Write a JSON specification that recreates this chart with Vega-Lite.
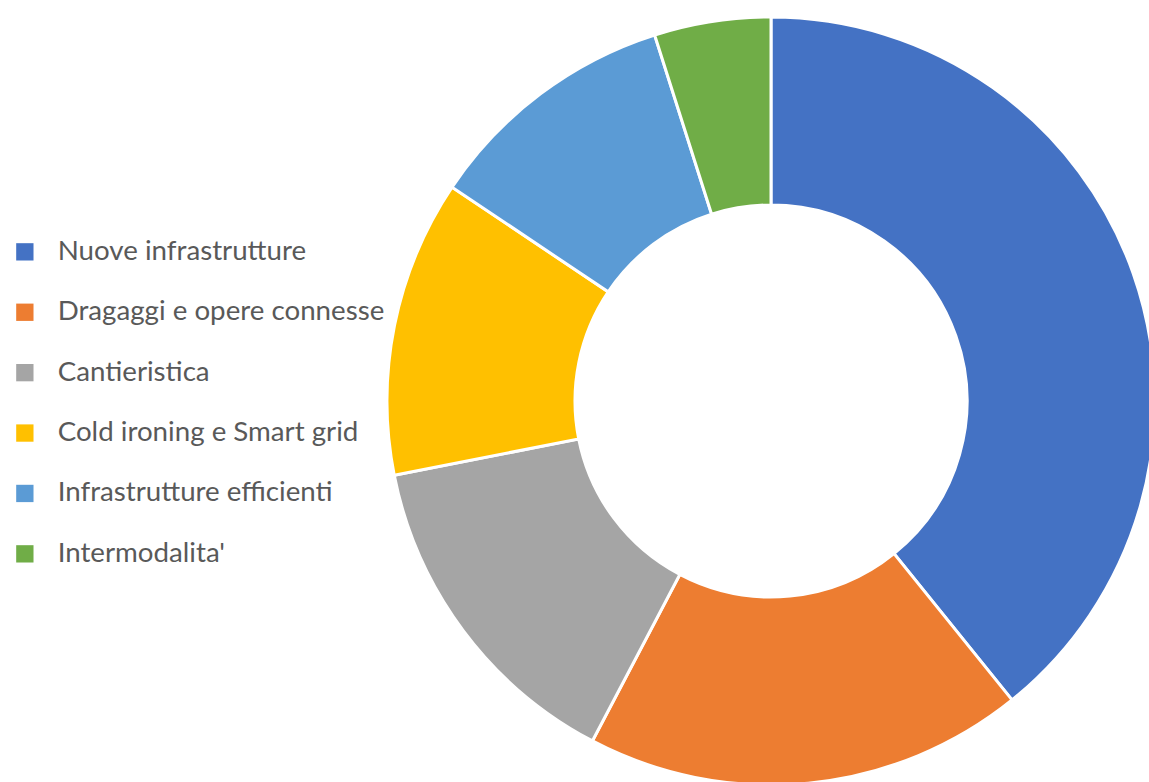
{
  "$schema": "https://vega.github.io/schema/vega-lite/v6.json",
  "width": 766,
  "height": 782,
  "autosize": {"type": "none"},
  "padding": {"left": 388, "top": 10, "right": 0, "bottom": 0},
  "background": "white",
  "config": {"view": {"stroke": null}},
  "data": {
    "values": [
      {"category": "Nuove infrastrutture", "value": 39.2, "o": 1},
      {"category": "Dragaggi e opere connesse", "value": 18.5, "o": 2},
      {"category": "Cantieristica", "value": 14.2, "o": 3},
      {"category": "Cold ironing e Smart grid", "value": 12.5, "o": 4},
      {"category": "Infrastrutture efficienti", "value": 10.7, "o": 5},
      {"category": "Intermodalita'", "value": 4.9, "o": 6}
    ]
  },
  "mark": {"type": "arc", "outerRadius": 384, "innerRadius": 196, "stroke": "white", "strokeWidth": 3},
  "encoding": {
    "theta": {"field": "value", "type": "quantitative", "stack": true},
    "order": {"field": "o", "type": "quantitative"},
    "color": {
      "field": "category",
      "type": "nominal",
      "sort": ["Nuove infrastrutture", "Dragaggi e opere connesse", "Cantieristica", "Cold ironing e Smart grid", "Infrastrutture efficienti", "Intermodalita'"],
      "scale": {
        "domain": ["Nuove infrastrutture", "Dragaggi e opere connesse", "Cantieristica", "Cold ironing e Smart grid", "Infrastrutture efficienti", "Intermodalita'"],
        "range": ["#4472C4", "#ED7D31", "#A5A5A5", "#FFC000", "#5B9BD5", "#70AD47"]
      },
      "legend": {
        "title": null,
        "orient": "none",
        "legendX": -377,
        "legendY": 228,
        "symbolType": "square",
        "symbolSize": 300,
        "symbolStrokeWidth": 0,
        "labelFont": "Lato",
        "labelFontSize": 27.7,
        "labelColor": "#595959",
        "labelOffset": 19,
        "labelLimit": 500,
        "rowPadding": 31.4,
        "padding": 0
      }
    }
  }
}
